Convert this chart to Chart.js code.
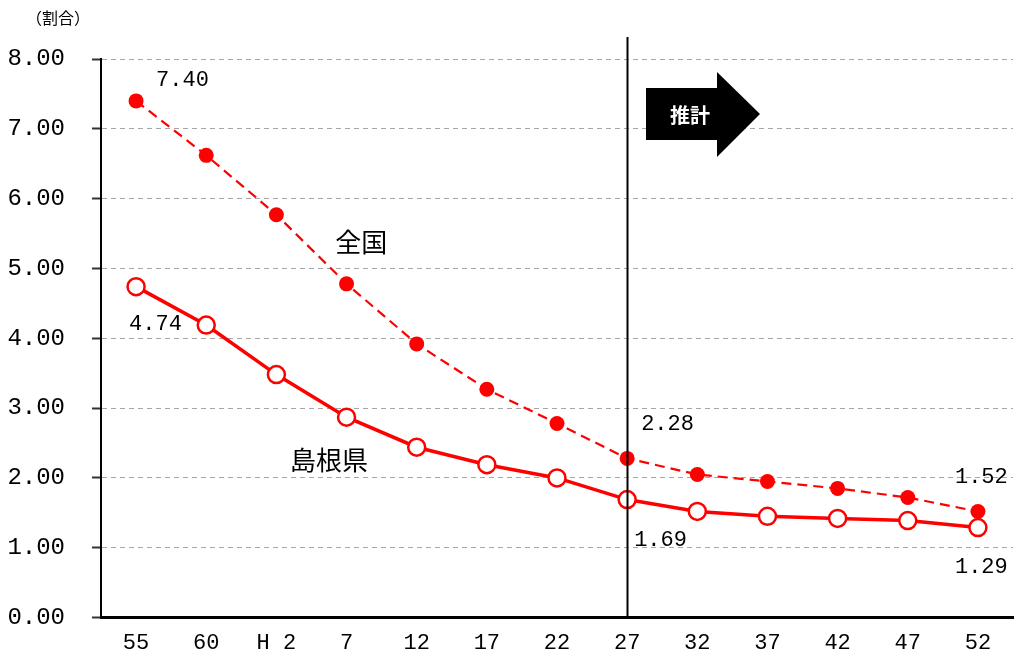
<!DOCTYPE html>
<html lang="ja">
<head>
    <meta charset="UTF-8">
    <title>割合の推移</title>
    <script src="https://cdn.jsdelivr.net/npm/chart.js@4.4.0/dist/chart.umd.min.js"></script>
    <style>
        body {
            margin: 0;
            background: #ffffff;
        }
        .chart-box {
            position: relative;
            width: 1014px;
            height: 659px;
        }
    </style>
</head>
<body>
    <div class="chart-box">
        <canvas id="ratioChart" width="1014" height="659"></canvas>
    </div>

    <script>
        // 年次（昭和55年〜令和52年）
        const years = ['55', '60', 'H 2', '7', '12', '17', '22', '27', '32', '37', '42', '47', '52'];
        // 全国
        const zenkoku = [7.40, 6.62, 5.77, 4.78, 3.92, 3.27, 2.78, 2.28, 2.05, 1.95, 1.85, 1.72, 1.52];
        // 島根県
        const shimane = [4.74, 4.19, 3.48, 2.87, 2.44, 2.19, 2.00, 1.69, 1.52, 1.45, 1.42, 1.39, 1.29];
        const yTicks = [0, 1, 2, 3, 4, 5, 6, 7, 8];
        const estimateFrom = '27';

        const monoFont = '"Liberation Mono", "DejaVu Sans Mono", monospace';
        const jpFont = '"Noto Sans CJK JP", sans-serif';

        // 値ラベル・系列名・推計の矢印などの注記
        const notesPlugin = {
            id: 'notes',
            afterDatasetsDraw(chart) {
                const ctx = chart.ctx;
                const x = chart.scales.x;
                const y = chart.scales.y;
                const area = chart.chartArea;
                ctx.save();

                // 推計開始の縦線
                const lx = Math.round(x.getPixelForValue(years.indexOf(estimateFrom))) + 0.5;
                ctx.strokeStyle = '#000';
                ctx.lineWidth = 2;
                ctx.beginPath();
                ctx.moveTo(lx, 37);
                ctx.lineTo(lx, area.bottom);
                ctx.stroke();

                // 矢印
                ctx.fillStyle = '#000';
                ctx.beginPath();
                ctx.moveTo(646, 88);
                ctx.lineTo(717, 88);
                ctx.lineTo(717, 72);
                ctx.lineTo(760, 114);
                ctx.lineTo(717, 157);
                ctx.lineTo(717, 140);
                ctx.lineTo(646, 140);
                ctx.closePath();
                ctx.fill();
                ctx.fillStyle = '#fff';
                ctx.font = 'bold 20px ' + jpFont;
                ctx.textAlign = 'center';
                ctx.textBaseline = 'middle';
                ctx.fillText('推計', 690, 115);

                // 値ラベル
                ctx.fillStyle = '#000';
                ctx.font = '22px ' + monoFont;
                ctx.textAlign = 'left';
                const last = years.length - 1;
                const est = years.indexOf(estimateFrom);
                const labels = [
                    [zenkoku, 0, 20, -21],
                    [shimane, 0, -7, 38],
                    [zenkoku, est, 14, -34],
                    [shimane, est, 7, 41],
                    [zenkoku, last, -23, -34],
                    [shimane, last, -23, 40]
                ];
                labels.forEach(([series, i, dx, dy]) => {
                    ctx.fillText(series[i].toFixed(2), x.getPixelForValue(i) + dx, y.getPixelForValue(series[i]) + dy);
                });

                // 系列名
                ctx.font = '26px ' + jpFont;
                ctx.textAlign = 'center';
                ctx.fillText('全国', x.getPixelForValue(3.21), y.getPixelForValue(5.38));
                ctx.fillText('島根県', x.getPixelForValue(2.75), y.getPixelForValue(2.26));

                // 単位
                ctx.font = '16px ' + jpFont;
                ctx.textAlign = 'left';
                ctx.fillText('（割合）', 26, 18);

                ctx.restore();
            }
        };

        new Chart(document.getElementById('ratioChart'), {
            type: 'line',
            data: {
                labels: years,
                datasets: [{
                    label: '全国',
                    data: zenkoku,
                    borderColor: '#ff0000',
                    backgroundColor: '#ff0000',
                    borderWidth: 2.2,
                    borderDash: [10, 6],
                    pointRadius: 7.5,
                    pointBorderWidth: 0,
                    tension: 0
                }, {
                    label: '島根県',
                    data: shimane,
                    borderColor: '#ff0000',
                    backgroundColor: '#ffffff',
                    borderWidth: 3.5,
                    pointRadius: 8.5,
                    pointBorderWidth: 2.5,
                    tension: 0
                }]
            },
            options: {
                responsive: false,
                animation: false,
                layout: {
                    autoPadding: false,
                    padding: { top: 59, right: 1, left: 0, bottom: 0 }
                },
                plugins: {
                    legend: { display: false },
                    tooltip: { enabled: false }
                },
                scales: {
                    x: {
                        offset: true,
                        grid: { display: false },
                        border: { display: true, color: '#000', width: 3 },
                        ticks: {
                            color: '#000',
                            padding: 4,
                            maxRotation: 0,
                            autoSkip: false,
                            font: { family: monoFont, size: 22 }
                        },
                        afterFit(scale) {
                            scale.height = 41;
                            scale.paddingLeft = 0;
                            scale.paddingRight = 0;
                        }
                    },
                    y: {
                        min: 0,
                        max: 8,
                        afterBuildTicks(scale) { scale.ticks = yTicks.map(v => ({ value: v })); },
                        grid: {
                            color: '#a6a6a6',
                            lineWidth: 1,
                            tickLength: 9,
                            tickColor: '#333',
                            tickBorderDash: [],
                            tickWidth: 2
                        },
                        border: { display: true, color: '#000', width: 2, dash: [5, 4] },
                        ticks: {
                            color: '#000',
                            padding: 27,
                            font: { family: monoFont, size: 24 },
                            callback: v => v.toFixed(2)
                        },
                        afterFit(scale) { scale.width = 101; }
                    }
                }
            },
            plugins: [notesPlugin]
        });
    </script>
</body>
</html>
